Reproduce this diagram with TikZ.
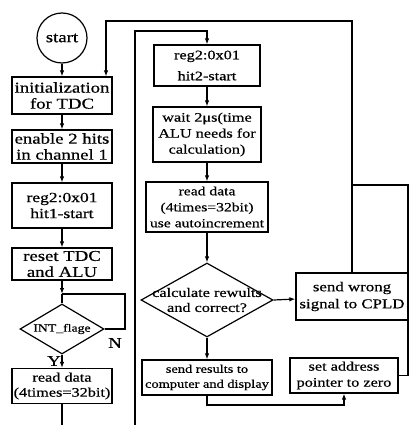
\documentclass[tikz,border=0pt]{standalone}
\usepackage{fontspec}
\setmainfont{Liberation Serif}[FakeStretch=1.25,FakeBold=0.6]
\usetikzlibrary{shapes.geometric,arrows.meta}

\begin{document}
\begin{tikzpicture}[x=1pt, y=-1pt,
  every node/.style={font=\fontsize{15}{16}\selectfont},
  box/.style={draw, line width=1.2pt, align=center, inner sep=0pt},
  decision/.style={draw, diamond, line width=1.2pt, inner sep=0pt},
  flow/.style={line width=1.2pt, -{Latex[length=6pt,width=4.5pt]}},
  wire/.style={line width=1.2pt}]
  \useasboundingbox (0,0) rectangle (410,425);

  % left column
  \node[draw, circle, line width=1.2pt, minimum size=50pt] (start) at (62,38) {start};
  \node[box, minimum width=100pt, minimum height=37pt] (init) at (62,95.5) {initialization\\for TDC};
  \node[box, minimum width=100pt, minimum height=33pt] (enable) at (62,146.5) {enable 2 hits\\in channel 1};
  \node[box, minimum width=100pt, minimum height=45pt, font=\fontsize{14}{16}\selectfont] (hitone) at (62,205.5) {reg2:0x01\\hit1-start};
  \node[box, minimum width=100pt, minimum height=32pt] (reset) at (62,264) {reset TDC\\and ALU};
  \node[decision, minimum width=84pt, minimum height=50pt,
        label={[font=\fontsize{11}{13}\selectfont]center:INT\_flage}] (intflag) at (62,329) {};
  \node[box, minimum width=100pt, minimum height=35pt, font=\fontsize{13}{15}\selectfont] (readL) at (62,386) {read data\\(4times=32bit)};
  \node (nlab) at (115,343) {N};
  \node[inner sep=0pt] (ylab) at (54,361) {Y};

  % right column
  \node[box, minimum width=106pt, minimum height=41pt, font=\fontsize{13}{21}\selectfont] (hittwo) at (207,65.5) {reg2:0x01\\hit2-start};
  \node[box, minimum width=108pt, minimum height=55pt, font=\fontsize{13}{16}\selectfont] (wait) at (207,134.5) {wait 2μs(time\\ALU needs for\\calculation)};
  \node[box, minimum width=122pt, minimum height=50pt, font=\fontsize{12.5}{16}\selectfont] (readR) at (207,207) {read data\\(4times=32bit)\\use autoincrement};
  \node[decision, minimum width=132pt, minimum height=74pt,
        label={[align=center, font=\fontsize{13}{15}\selectfont]center:calculate rewults\\and correct?}] (calc) at (207,300) {};
  \node[box, minimum width=130pt, minimum height=35pt, font=\fontsize{11.5}{15}\selectfont] (results) at (207,377.5) {send results to\\computer and display};
  \node[box, minimum width=112pt, minimum height=47pt, font=\fontsize{13.5}{17}\selectfont] (wrong) at (352,296.5) {send wrong\\signal to CPLD};
  \node[box, minimum width=108pt, minimum height=35pt, font=\fontsize{13}{16}\selectfont] (address) at (344,375.5) {set address\\pointer to zero};

  \coordinate (merge) at (62,294);
  \coordinate (loopc) at (125,294);
  \coordinate (leftBot) at (62,425);
  \coordinate (initin) at ([xshift=44pt]init.north);
  \coordinate (topR) at (352,21);
  \coordinate (backR) at (408,185);
  \coordinate (innerBot) at (135,425);
  \coordinate (innerTop) at (135,31);
  \coordinate (lowR) at (207,405);

  \draw[flow] (start) -- (init);
  \draw[flow] (init) -- (enable);
  \draw[flow] (enable) -- (hitone);
  \draw[flow] (hitone) -- (reset);
  \draw[flow] (reset) -- (merge);
  \draw[wire] (merge) -- (intflag.north);
  \draw[wire] (intflag.east) -| (loopc) -- (merge);
  \draw[flow] (intflag.south) -- (readL);
  \draw[wire] (readL) -- (leftBot);

  \draw[flow] (innerBot) -- (innerTop) -| (hittwo.north);
  \draw[flow] (hittwo) -- (wait);
  \draw[flow] (wait) -- (readR);
  \draw[flow] (readR) -- (calc.north);
  \draw[flow] (calc.east) -- (wrong);
  \draw[flow] (calc.south) -- (results);
  \draw[flow] (results.south) -- (lowR) -| (address.south);
  \draw[flow] (wrong.north) -- (topR) -| (initin);
  \draw[wire] (address.east) -| (backR) -- (backR -| wrong.north);
\end{tikzpicture}
\end{document}
